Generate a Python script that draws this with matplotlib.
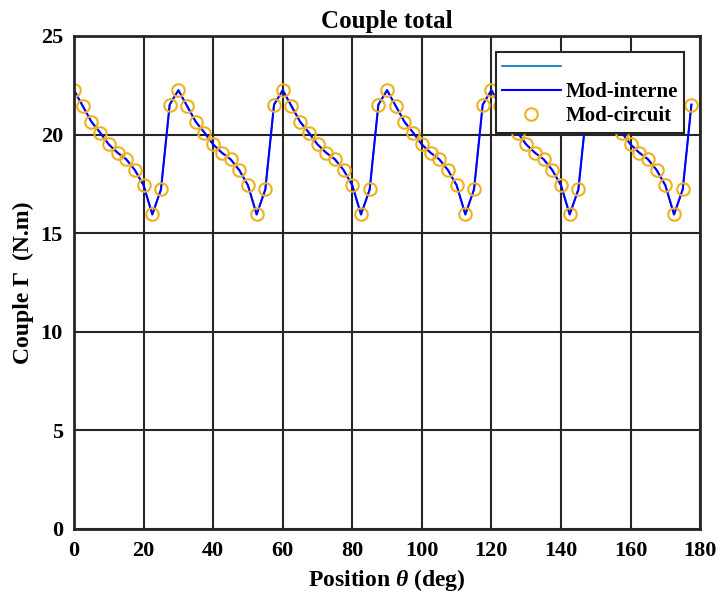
import numpy as np
import matplotlib
matplotlib.use('Agg')
import matplotlib.pyplot as plt

plt.rcParams['font.family'] = ['Liberation Serif', 'DejaVu Serif']
plt.rcParams['font.weight'] = 'bold'
plt.rcParams['mathtext.fontset'] = 'custom'
plt.rcParams['mathtext.it'] = 'Liberation Serif:bold:italic'
plt.rcParams['mathtext.rm'] = 'Liberation Serif:bold'

# one period of 30 deg, sampled every 2.5 deg
period_vals = [22.25, 21.45, 20.65, 20.1, 19.5, 19.08, 18.75, 18.2, 17.43,
               15.95, 17.22, 21.52]
n_periods = 6
step = 2.5

theta = np.arange(len(period_vals) * n_periods) * step
couple = np.tile(period_vals, n_periods)

fig = plt.figure(figsize=(7.18, 5.99), dpi=100)
ax = fig.add_axes([0.1031, 0.1169, 0.872, 0.823])

ax.plot(theta, couple, color='#0072BD', lw=1.2, label=' ')
ax.plot(theta, couple, color='#0000FF', lw=1.5, label='Mod-interne')
ax.plot(theta, couple, ls='none', marker='o', ms=9, mfc='none',
        mec='#EDB120', mew=1.5, label='Mod-circuit')

ax.set_xlim(0, 180)
ax.set_ylim(0, 25)
ax.set_xticks(np.arange(0, 181, 20))
ax.set_yticks(np.arange(0, 26, 5))
ax.grid(True, color='#262626', lw=1.5, alpha=1)
ax.set_axisbelow(True)
ax.tick_params(direction='in', labelsize=16, length=0, width=1.5)
ax.tick_params(axis='x', pad=9)
ax.tick_params(axis='y', pad=8)
for lab in ax.get_xticklabels() + ax.get_yticklabels():
    lab.set_fontweight('bold')
for s in ax.spines.values():
    s.set_linewidth(2)
    s.set_color('#262626')

ax.set_title('Couple total', fontsize=18, fontweight='bold', pad=6)
ax.set_xlabel(r'Position $\theta$ (deg)', fontsize=17, fontweight='bold',
              labelpad=4)
ax.set_ylabel('Couple \u0393  (N.m)', fontsize=17, fontweight='bold',
              labelpad=5)

leg = ax.legend(loc='upper right', bbox_to_anchor=(0.975, 0.968),
                fontsize=15, fancybox=False, framealpha=1, edgecolor='#262626',
                handlelength=2.8, handletextpad=0.25, borderpad=0.3,
                borderaxespad=0, labelspacing=0.2)
leg.get_frame().set_linewidth(1.5)
for t in leg.get_texts():
    t.set_fontweight('bold')

fig.savefig('out.png', dpi=100)
